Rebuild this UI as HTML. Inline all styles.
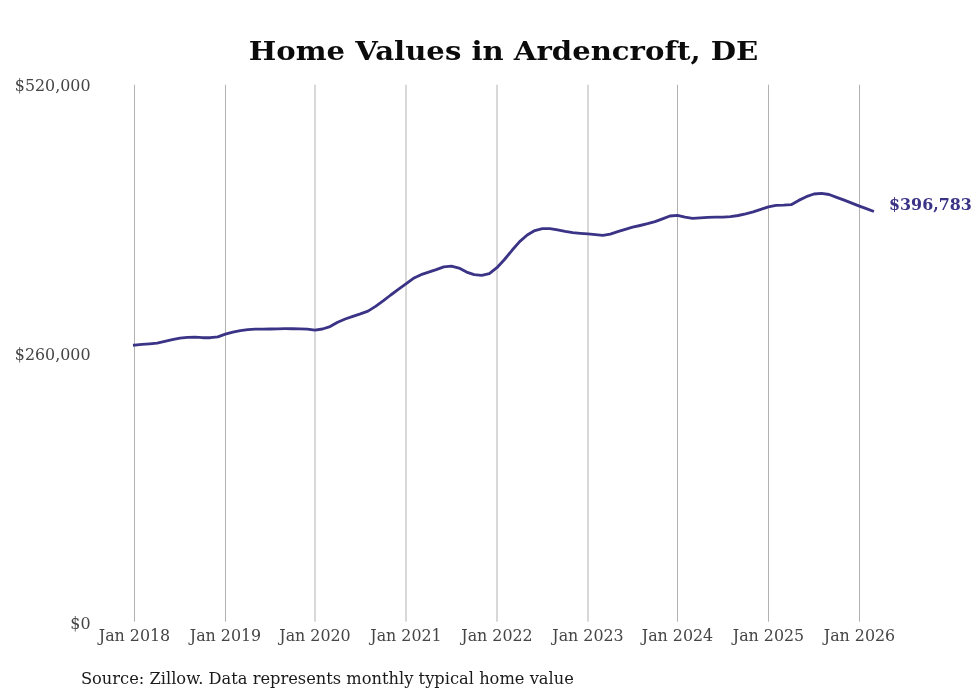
<!DOCTYPE html>
<html lang="en"><head><meta charset="utf-8"><title>Home Values in Ardencroft, DE</title>
<style>
html,body{margin:0;padding:0;background:#fff;}
body{width:980px;height:699px;overflow:hidden;}
svg{display:block;will-change:transform;}
text{font-family:"DejaVu Serif","Liberation Serif",serif;}
.title{font-weight:bold;font-size:29.15px;fill:#0b0b0b;}
.tick{font-size:15.87px;fill:#454545;}
.src{font-size:16.28px;fill:#1a1a1a;}
.val{font-size:15.9px;font-weight:bold;fill:#3b3486;}
.grid line{stroke:#b2b2b2;stroke-width:1;}
</style></head><body>
<svg width="980" height="699" viewBox="0 0 980 699">
<rect width="980" height="699" fill="#ffffff"/>
<g class="grid"><line x1="134.50" y1="84.70" x2="134.50" y2="621.70"/><line x1="225.50" y1="84.70" x2="225.50" y2="621.70"/><line x1="315.00" y1="84.70" x2="315.00" y2="621.70"/><line x1="406.00" y1="84.70" x2="406.00" y2="621.70"/><line x1="497.00" y1="84.70" x2="497.00" y2="621.70"/><line x1="588.00" y1="84.70" x2="588.00" y2="621.70"/><line x1="677.50" y1="84.70" x2="677.50" y2="621.70"/><line x1="768.50" y1="84.70" x2="768.50" y2="621.70"/><line x1="859.50" y1="84.70" x2="859.50" y2="621.70"/></g>
<text class="title" x="503.5" y="60.3" text-anchor="middle" transform="translate(0 60.3) scale(1 0.925) translate(0 -60.3)">Home Values in Ardencroft, DE</text>
<g class="tick">
<text x="90.5" y="90.6" text-anchor="end">$520,000</text>
<text x="90.5" y="359.8" text-anchor="end">$260,000</text>
<text x="90.5" y="628.8" text-anchor="end">$0</text>
<text x="134.50" y="640.5" text-anchor="middle">Jan 2018</text><text x="225.50" y="640.5" text-anchor="middle">Jan 2019</text><text x="315.00" y="640.5" text-anchor="middle">Jan 2020</text><text x="406.00" y="640.5" text-anchor="middle">Jan 2021</text><text x="497.00" y="640.5" text-anchor="middle">Jan 2022</text><text x="588.00" y="640.5" text-anchor="middle">Jan 2023</text><text x="677.50" y="640.5" text-anchor="middle">Jan 2024</text><text x="768.50" y="640.5" text-anchor="middle">Jan 2025</text><text x="859.50" y="640.5" text-anchor="middle">Jan 2026</text>
</g>
<path d="M134.40 345.10 L141.98 344.40 L149.57 343.80 L157.15 343.10 L164.73 341.40 L172.32 339.70 L179.90 338.20 L187.48 337.30 L195.07 337.10 L202.65 337.70 L210.23 337.70 L217.82 336.80 L225.40 334.15 L232.86 332.10 L240.32 330.60 L247.78 329.60 L255.23 329.10 L262.69 329.05 L270.15 329.00 L277.61 328.80 L285.07 328.70 L292.52 328.75 L299.98 328.90 L307.44 329.20 L314.90 330.15 L322.48 329.00 L330.07 326.60 L337.65 322.20 L345.23 319.00 L352.82 316.40 L360.40 313.90 L367.98 311.10 L375.57 306.40 L383.15 300.90 L390.73 295.00 L398.32 289.40 L405.90 283.85 L413.48 278.30 L421.07 274.70 L428.65 272.10 L436.23 269.60 L443.82 266.80 L451.40 266.20 L458.98 268.10 L466.57 272.10 L474.15 274.70 L481.73 275.40 L489.32 273.70 L496.90 267.70 L504.48 259.50 L512.07 250.30 L519.65 241.60 L527.23 235.00 L534.82 230.60 L542.40 228.70 L549.98 228.60 L557.57 229.90 L565.15 231.40 L572.73 232.70 L580.32 233.30 L587.90 233.85 L595.36 234.70 L602.82 235.40 L610.27 234.10 L617.73 231.60 L625.19 229.30 L632.65 227.20 L640.11 225.50 L647.57 223.70 L655.02 221.60 L662.48 218.80 L669.94 216.00 L677.40 215.40 L684.98 217.20 L692.57 218.30 L700.15 217.90 L707.73 217.40 L715.32 217.10 L722.90 217.20 L730.48 216.60 L738.07 215.50 L745.65 213.80 L753.23 211.90 L760.82 209.40 L768.40 206.85 L775.98 205.30 L783.57 205.10 L791.15 204.70 L798.73 200.40 L806.32 196.70 L813.90 194.00 L821.48 193.40 L829.07 194.50 L836.65 197.30 L844.23 200.20 L851.82 203.20 L859.40 206.10 L866.30 208.70 L872.60 211.00" fill="none" stroke="#3b3486" stroke-width="2.85" stroke-linejoin="round" stroke-linecap="square"/>
<text class="val" x="889" y="210.3">$396,783</text>
<text class="src" x="80.9" y="683.6">Source: Zillow. Data represents monthly typical home value</text>
</svg>
</body></html>
